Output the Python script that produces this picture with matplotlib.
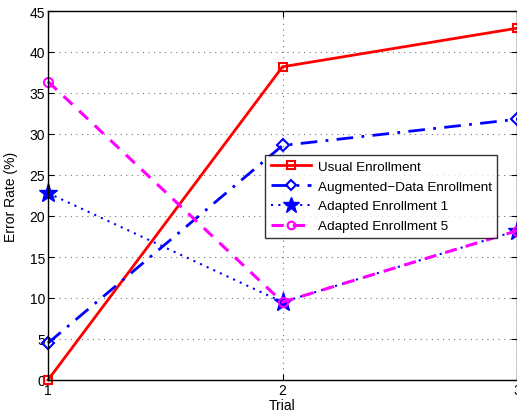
import numpy as np
import matplotlib.pyplot as plt

plt.rcParams['font.family'] = ['Liberation Sans', 'DejaVu Sans']

trials = [1, 2, 3]
usual = [0.0, 38.2, 42.9]
augmented = [4.5, 28.6, 31.8]
adapted1 = [22.8, 9.5, 18.2]
adapted5 = [36.4, 9.5, 18.2]

fig = plt.figure(figsize=(5.17, 4.14), dpi=100)
ax = fig.add_axes([48/517, 33/414, 469/517, 369/414])

ax.plot(trials, usual, color='red', linestyle='-', linewidth=2,
        marker='s', markersize=6, markerfacecolor='none', markeredgewidth=1.5,
        label='Usual Enrollment', clip_on=False)
ax.plot(trials, augmented, color='blue', linestyle='-.', linewidth=2,
        dashes=(6, 3, 1, 3), marker='D', markersize=6, markerfacecolor='none',
        markeredgewidth=1.5, label='Augmented\u2212Data Enrollment', clip_on=False)
ax.plot(trials, adapted1, color='blue', linestyle=':', linewidth=1.5,
        dashes=(1, 2.5), marker='*', markersize=14, markerfacecolor='blue',
        label='Adapted Enrollment 1', clip_on=False)
ax.plot(trials, adapted5, color='magenta', linestyle='--', linewidth=2.2,
        dashes=(4, 3), marker='o', markersize=6.5, markerfacecolor='none',
        markeredgewidth=1.5, label='Adapted Enrollment 5', clip_on=False)

ax.set_xlim(1, 3)
ax.set_ylim(0, 45)
ax.set_xticks(trials)
ax.set_yticks(np.arange(0, 46, 5))
ax.tick_params(direction='in', labelsize=10, top=True, right=True, length=4, pad=2)
ax.grid(True, linestyle=(0, (1, 4)), color='#777777', linewidth=0.8)
for s in ax.spines.values():
    s.set_linewidth(1)
ax.set_xlabel('Trial', fontsize=10, labelpad=1)
ax.set_ylabel('Error Rate (%)', fontsize=10, labelpad=8)

leg = ax.legend(loc='upper left', bbox_to_anchor=(0.463, 0.61), fontsize=9.7,
                frameon=True, fancybox=False, edgecolor='black',
                borderpad=0.4, labelspacing=0.55, handlelength=3.0,
                handletextpad=0.5, borderaxespad=0, markerscale=0.85)
leg.get_frame().set_linewidth(1)

fig.savefig('out.png', dpi=100)
